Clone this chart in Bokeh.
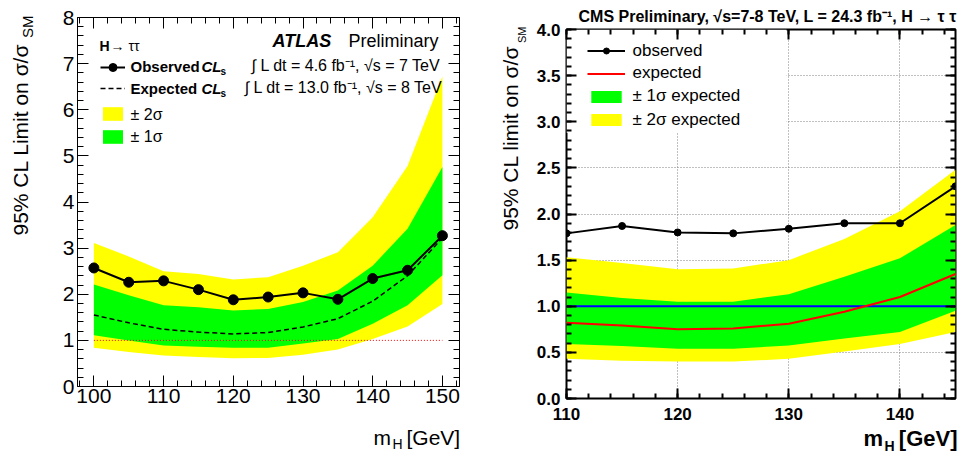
import numpy as np
from bokeh.plotting import figure
from bokeh.layouts import row
from bokeh.models import (FixedTicker, LinearAxis, Legend, LegendItem, Label, Range1d,
                          BoxAnnotation)
from bokeh.embed import file_html
from bokeh.resources import INLINE

FONT = "Liberation Sans"

# ---------------- ATLAS (left panel) data ----------------
atlas_mass = [100, 105, 110, 115, 120, 125, 130, 135, 140, 145, 150]
atlas_obs = [2.57, 2.26, 2.29, 2.10, 1.88, 1.94, 2.03, 1.89, 2.34, 2.52, 3.27]
atlas_exp = [1.55, 1.38, 1.24, 1.18, 1.14, 1.17, 1.29, 1.47, 1.85, 2.40, 3.22]
atlas_minus2 = [0.84, 0.75, 0.67, 0.64, 0.61, 0.62, 0.69, 0.80, 1.03, 1.30, 1.79]
atlas_minus1 = [1.11, 1.00, 0.89, 0.86, 0.84, 0.84, 0.93, 1.03, 1.36, 1.76, 2.41]
atlas_plus1 = [2.21, 1.98, 1.76, 1.72, 1.65, 1.68, 1.83, 2.08, 2.62, 3.42, 4.76]
atlas_plus2 = [3.11, 2.82, 2.50, 2.44, 2.32, 2.37, 2.62, 2.91, 3.67, 4.78, 6.72]
atlas_xticks = [100, 110, 120, 130, 140, 150]
atlas_xtick_labels = ["100", "110", "120", "130", "140", "150"]
atlas_yticks = [0, 1, 2, 3, 4, 5, 6, 7, 8]
atlas_ytick_labels = ["0", "1", "2", "3", "4", "5", "6", "7", "8"]

# ---------------- CMS (right panel) data ----------------
cms_mass = [110, 115, 120, 125, 130, 135, 140, 145]
cms_obs = [1.79, 1.87, 1.80, 1.79, 1.84, 1.90, 1.90, 2.30]
cms_exp = [0.82, 0.79, 0.75, 0.76, 0.81, 0.94, 1.10, 1.35]
cms_minus2 = [0.43, 0.41, 0.40, 0.40, 0.43, 0.51, 0.59, 0.72]
cms_minus1 = [0.59, 0.57, 0.54, 0.54, 0.575, 0.65, 0.72, 0.95]
cms_plus1 = [1.15, 1.09, 1.05, 1.05, 1.13, 1.32, 1.52, 1.88]
cms_plus2 = [1.53, 1.47, 1.40, 1.41, 1.50, 1.73, 2.03, 2.48]
cms_xticks = [110, 120, 130, 140]
cms_xtick_labels = ["110", "120", "130", "140"]
cms_yticks = [0.0, 0.5, 1.0, 1.5, 2.0, 2.5, 3.0, 3.5, 4.0]
cms_ytick_labels = ["0.0", "0.5", "1.0", "1.5", "2.0", "2.5", "3.0", "3.5", "4.0"]

sm_value = 1.0

YELLOW = "#ffff00"
GREEN = "#00ff00"


def make_fig(w, h, fl, fr, ft, fb, xr, yr):
    p = figure(width=w, height=h, x_range=Range1d(*xr), y_range=Range1d(*yr),
               output_backend="svg", toolbar_location=None,
               min_border_left=fl, min_border_right=w - fr,
               min_border_top=ft, min_border_bottom=h - fb)
    p.frame_align = False
    p.background_fill_color = "white"
    p.border_fill_color = "white"
    p.outline_line_color = "black"
    return p


def setup_axes(p, xt, xlab, xminor, yt, ylab, yminor, size, style, tick_w,
               maj_len, min_len, xstand, ystand):
    p.add_layout(LinearAxis(), "above")
    p.add_layout(LinearAxis(), "right")
    for ax in p.xaxis:
        ax.ticker = FixedTicker(ticks=xt, minor_ticks=xminor)
    for ax in p.yaxis:
        ax.ticker = FixedTicker(ticks=yt, minor_ticks=yminor)
    for ax in list(p.xaxis) + list(p.yaxis):
        ax.axis_line_color = None
        ax.major_tick_in = maj_len
        ax.major_tick_out = 0
        ax.minor_tick_in = min_len
        ax.minor_tick_out = 0
        ax.major_tick_line_color = "black"
        ax.minor_tick_line_color = "black"
        ax.major_tick_line_width = tick_w
        ax.minor_tick_line_width = tick_w
        ax.major_label_text_font = FONT
        ax.major_label_text_font_size = size
        ax.major_label_text_font_style = style
        ax.major_label_text_color = "black"
    for ax in (p.above[0], p.right[0]):
        ax.major_label_text_color = None
        ax.major_label_standoff = 0
        ax.major_label_text_font_size = "8px"
    p.below[0].major_label_overrides = dict(zip(xt, xlab))
    p.left[0].major_label_overrides = dict(zip(yt, ylab))
    p.below[0].major_label_standoff = xstand
    p.left[0].major_label_standoff = ystand


def key_legend(items, left, top, fb, fl, gw, gh, gap):
    """Legend showing only the glyph keys; key texts are written on the overlay."""
    n = len(items)
    height = n * gh + (n - 1) * gap
    return Legend(items=[LegendItem(label=lab, renderers=r) for lab, r in items],
                  location=(left - fl, fb - (top + height)), glyph_width=gw,
                  glyph_height=gh, label_height=gh, label_width=1, spacing=gap,
                  padding=0, margin=0, label_standoff=0, label_text_font=FONT,
                  label_text_font_size="1px", label_text_color=None,
                  border_line_color=None, background_fill_alpha=0)


# ======================= LEFT: ATLAS =======================
LW, LH = 480, 453
LFL, LFR, LFT, LFB = 77, 459, 17, 386
p1 = make_fig(LW, LH, LFL, LFR, LFT, LFB, (97.65, 152.45), (0, 8))
p1.outline_line_width = 1
p1.grid.visible = False

band2 = p1.varea(x=atlas_mass, y1=atlas_minus2, y2=atlas_plus2, fill_color=YELLOW)
band1 = p1.varea(x=atlas_mass, y1=atlas_minus1, y2=atlas_plus1, fill_color=GREEN)
p1.line([atlas_mass[0], atlas_mass[-1]], [sm_value, sm_value], line_color="red",
        line_dash="1 2", line_width=1)
exp_l = p1.line(atlas_mass, atlas_exp, line_color="black", line_dash="5 3", line_width=1.5)
obs_l = p1.line(atlas_mass, atlas_obs, line_color="black", line_width=2)
obs_s = p1.scatter(atlas_mass, atlas_obs, size=10, color="black")

setup_axes(p1, atlas_xticks, atlas_xtick_labels, list(np.arange(98, 153, 2)),
           atlas_yticks, atlas_ytick_labels, list(np.round(np.arange(0, 8.01, 0.2), 2)),
           "21px", "normal", 1, 11, 6, 2, 3)

p1.add_layout(key_legend([("Observed", [obs_l, obs_s]), ("Expected", [exp_l])],
                         100, 57, LFB, LFL, 25, 20, 1))
p1.add_layout(key_legend([("± 2σ", [band2]), ("± 1σ", [band1])],
                         100, 105, LFB, LFL, 25, 17, 6))

# ======================= RIGHT: CMS =======================
RW, RH = 483, 453
RFL, RFR, RFT, RFB = 86, 475, 29, 398
p2 = make_fig(RW, RH, RFL, RFR, RFT, RFB, (110, 145), (0, 4))
p2.outline_line_width = 2
p2.xgrid.ticker = FixedTicker(ticks=cms_xticks)
p2.ygrid.ticker = FixedTicker(ticks=cms_yticks)
p2.grid.grid_line_color = "#808080"
p2.grid.grid_line_dash = "1 2"
p2.grid.grid_line_width = 1

# white legend area hiding the grid
p2.add_layout(BoxAnnotation(left=110, right=129.8, bottom=2.88, top=4.0,
                            fill_color="white", fill_alpha=1, line_color=None,
                            level="underlay"))

c_band2 = p2.varea(x=cms_mass, y1=cms_minus2, y2=cms_plus2, fill_color=YELLOW)
c_band1 = p2.varea(x=cms_mass, y1=cms_minus1, y2=cms_plus1, fill_color=GREEN)
p2.line([cms_mass[0], cms_mass[-1]], [sm_value, sm_value], line_color="#0000ff", line_width=2)
c_exp = p2.line(cms_mass, cms_exp, line_color="#ff0000", line_width=2)
c_obs_l = p2.line(cms_mass, cms_obs, line_color="black", line_width=2)
c_obs_s = p2.scatter(cms_mass, cms_obs, size=7, color="black")

setup_axes(p2, cms_xticks, cms_xtick_labels, list(np.arange(110, 146, 2)),
           cms_yticks, cms_ytick_labels, list(np.round(np.arange(0, 4.01, 0.1), 2)),
           "17px", "bold", 2, 10, 5, 9, 6)

p2.add_layout(key_legend([("observed", [c_obs_l, c_obs_s]), ("expected", [c_exp]),
                          ("± 1σ expected", [c_band1]), ("± 2σ expected", [c_band2])],
                         587 - 480, 43, RFB, RFL, 38, 15, 8))

# ======================= TEXT OVERLAY (page pixels) =======================
ov = figure(width=963, height=453, x_range=Range1d(0, 963), y_range=Range1d(453, 0),
            output_backend="svg", toolbar_location=None, x_axis_type=None, y_axis_type=None,
            min_border_left=0, min_border_right=0, min_border_top=0, min_border_bottom=0,
            styles={"position": "absolute", "left": "0px", "top": "0px"})
ov.frame_align = False
ov.outline_line_color = None
ov.background_fill_alpha = 0
ov.border_fill_alpha = 0
ov.grid.visible = False


def txt(x, base, text, size, style="normal", align="left", vertical=False):
    """x / base: page pixel position of the text start and its baseline."""
    mid = base - 0.35 * size
    if vertical:
        lx, ly, ang = mid, x, np.pi / 2
    else:
        lx, ly, ang = x, mid, 0.0
    ov.add_layout(Label(x=lx, y=ly, text=text, text_font=FONT, text_font_size=f"{size}px",
                        text_font_style=style, text_align=align,
                        text_baseline="middle", angle=ang, text_color="black"))


# left panel texts
txt(99, 50, "H", 14, "bold")
txt(110, 50, "→ ττ", 14)
txt(272, 47, "ATLAS", 18, "bold italic")
txt(438, 47, "Preliminary", 18, align="right")
txt(130, 71, "Observed", 15, "bold")
txt(201, 71, "CL", 15, "bold italic")
txt(220, 74, "s", 10, "bold")
txt(440, 71, "∫ L dt = 4.6 fb⁻¹, √s = 7 TeV", 16, align="right")
txt(130, 93, "Expected", 15, "bold")
txt(201, 93, "CL", 15, "bold italic")
txt(220, 96, "s", 10, "bold")
txt(442, 93, "∫ L dt = 13.0 fb⁻¹, √s = 8 TeV", 16, align="right")
txt(130, 120, "± 2σ", 16)
txt(130, 142, "± 1σ", 16)
txt(235, 27, "95% CL Limit on σ/σ", 21, vertical=True)
txt(15, 32, "SM", 15, align="right", vertical=True)
txt(373, 444, "m", 21)
txt(392, 448, "H", 14)
txt(406, 444, "[GeV]", 21)

# right panel texts
txt(578, 22, "CMS  Preliminary, √s=7-8 TeV, L = 24.3 fb⁻¹, H → τ τ", 16, "bold")
txt(632, 55.5, "observed", 17)
txt(632, 77.5, "expected", 17)
txt(632, 100.5, "± 1σ expected", 17)
txt(632, 124.5, "± 2σ expected", 17)
txt(230, 517, "95% CL limit on  σ/σ", 21, vertical=True)
txt(26, 525, "SM", 11, align="right", vertical=True)
txt(863, 446, "m", 22, "bold")
txt(884, 450, "H", 14, "bold")
txt(957, 446, "[GeV]", 22, "bold", align="right")

layout = row(p1, p2, ov)
open("out.html", "w").write(file_html(layout, INLINE))
